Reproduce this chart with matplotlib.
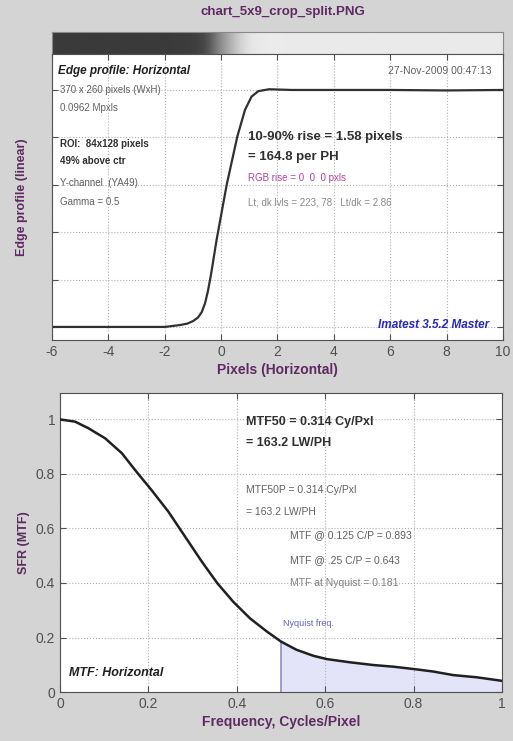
import numpy as np
import matplotlib
matplotlib.use('Agg')
import matplotlib.pyplot as plt

plt.rcParams['font.family'] = ['Liberation Sans', 'DejaVu Sans']
plt.rcParams['axes.unicode_minus'] = False

# edge profile (normalized, 0 = dark level, 1 = light level)
edge_x = [-6, -3, -2, -1.46, -1.2, -0.99, -0.82, -0.69, -0.57, -0.47, -0.36, -0.157,
          0.198, 0.574, 0.847, 1.08, 1.32, 1.7, 2.5, 4.0, 6.0, 8.0, 10.0]
edge_y = [0.0, 0.0, 0.0, 0.008, 0.014, 0.025, 0.04, 0.062, 0.1, 0.15, 0.22, 0.37,
          0.6, 0.803, 0.916, 0.972, 0.995, 1.003, 1.0, 1.0, 1.0, 0.998, 1.0]

# MTF curve
mtf_f = [0, 0.034, 0.064, 0.102, 0.14, 0.173, 0.207, 0.245, 0.283, 0.321, 0.356, 0.392,
         0.43, 0.468, 0.5, 0.535, 0.573, 0.603, 0.656, 0.709, 0.754, 0.807, 0.845, 0.89,
         0.943, 1.0]
mtf_v = [1.0, 0.992, 0.968, 0.931, 0.876, 0.808, 0.741, 0.662, 0.57, 0.478, 0.399, 0.331,
         0.27, 0.222, 0.185, 0.155, 0.133, 0.121, 0.109, 0.099, 0.093, 0.083, 0.075, 0.062,
         0.054, 0.041]

edge_ticks = [-6, -4, -2, 0, 2, 4, 6, 8, 10]
edge_grid = [0, 0.2, 0.4, 0.6, 0.8, 1.0]
mtf_xticks = [0, 0.2, 0.4, 0.6, 0.8, 1]
mtf_yticks = [0, 0.2, 0.4, 0.6, 0.8, 1]
nyquist = 0.5

bg = '#d4d4d4'
purple = '#5e2a62'
gray_txt = '#606060'

fig = plt.figure(figsize=(5.13, 7.41), dpi=100, facecolor=bg)
fig.text(0.552, 0.984, 'chart_5x9_crop_split.PNG', ha='center', va='center',
         fontsize=9.5, fontweight='bold', color=purple)

# gradient strip (image of the edge)
strip = fig.add_axes([0.1014, 0.9271, 0.879, 0.0297])
xs = np.linspace(-6, 10, 400)
prof = np.interp(xs, edge_x, edge_y)
strip.imshow(prof[np.newaxis, :], aspect='auto', cmap='gray', vmin=-0.33, vmax=1.12,
             extent=[-6, 10, 0, 1])
strip.set_xticks([])
strip.set_yticks([])
for s in strip.spines.values():
    s.set_color('#888888')

# edge profile axes
ax1 = fig.add_axes([0.1014, 0.5412, 0.879, 0.386])
ax1.plot(edge_x, edge_y, color='#303030', lw=1.6)
ax1.set_xlim(-6, 10)
ax1.set_ylim(-0.055, 1.152)
ax1.set_xticks(edge_ticks)
ax1.set_yticks(edge_grid)
ax1.set_yticklabels([])
ax1.tick_params(direction='in', top=True, right=True, length=4, labelsize=10,
                labelcolor='#505050', color='#505050')
ax1.grid(True, linestyle=':', color='#b0b0b0', lw=0.8)
ax1.set_xlabel('Pixels (Horizontal)', fontsize=10, fontweight='bold', color=purple, labelpad=3)
ax1.set_ylabel('Edge profile (linear)', fontsize=9, fontweight='bold', color=purple, labelpad=14)
for s in ax1.spines.values():
    s.set_color('#505050')

t = ax1.transAxes
ax1.text(0.013, 0.942, 'Edge profile: Horizontal', transform=t, fontsize=8.5,
         fontweight='bold', style='italic', color='#202020', va='center')
ax1.text(0.975, 0.942, '27-Nov-2009 00:47:13', transform=t, fontsize=7.5,
         color=gray_txt, va='center', ha='right')
left_lines = [('370 x 260 pixels (WxH)', 0.873, 'normal', gray_txt),
              ('0.0962 Mpxls', 0.81, 'normal', gray_txt),
              ('ROI:  84x128 pixels', 0.685, 'bold', '#303030'),
              ('49% above ctr', 0.625, 'bold', '#303030'),
              ('Y-channel  (YA49)', 0.55, 'normal', gray_txt),
              ('Gamma = 0.5', 0.482, 'normal', gray_txt)]
for s, yy, w, c in left_lines:
    ax1.text(0.018, yy, s, transform=t, fontsize=7, fontweight=w, color=c, va='center')
ax1.text(0.435, 0.708, '10-90% rise = 1.58 pixels', transform=t, fontsize=9.5,
         fontweight='bold', color='#303030', va='center')
ax1.text(0.435, 0.638, '= 164.8 per PH', transform=t, fontsize=9.5,
         fontweight='bold', color='#303030', va='center')
ax1.text(0.435, 0.568, 'RGB rise = 0  0  0 pxls', transform=t, fontsize=7,
         color='#b040a0', va='center')
ax1.text(0.435, 0.482, 'Lt, dk lvls = 223, 78   Lt/dk = 2.86', transform=t, fontsize=7,
         color='#8a8a8a', va='center')
ax1.text(0.97, 0.052, 'Imatest 3.5.2 Master', transform=t, fontsize=8.5,
         fontweight='bold', style='italic', color='#2828c0', va='center', ha='right')

# MTF axes
ax2 = fig.add_axes([0.117, 0.0661, 0.8616, 0.4035])
fx = np.array(mtf_f)
mv = np.array(mtf_v)
ny = fx >= nyquist
ax2.fill_between(fx[ny], 0, mv[ny], color='#e4e4f8', zorder=1)
ax2.plot([nyquist, nyquist], [0, mv[ny][0]], color='#9090c0', lw=1.2, zorder=2)
ax2.plot(mtf_f, mtf_v, color='#202020', lw=1.8, zorder=3)
ax2.set_xlim(0, 1)
ax2.set_ylim(0, 1.097)
ax2.set_xticks(mtf_xticks)
ax2.set_xticklabels(['0', '0.2', '0.4', '0.6', '0.8', '1'])
ax2.set_yticks(mtf_yticks)
ax2.set_yticklabels(['0', '0.2', '0.4', '0.6', '0.8', '1'])
ax2.tick_params(direction='in', top=True, right=True, length=4, labelsize=10,
                labelcolor='#505050', color='#505050')
ax2.grid(True, linestyle=':', color='#b0b0b0', lw=0.8)
ax2.set_xlabel('Frequency, Cycles/Pixel', fontsize=10, fontweight='bold', color=purple, labelpad=3)
ax2.set_ylabel('SFR (MTF)', fontsize=9, fontweight='bold', color=purple, labelpad=4)
for s in ax2.spines.values():
    s.set_color('#505050')

ax2.text(0.42, 0.99, 'MTF50 = 0.314 Cy/Pxl', fontsize=9, fontweight='bold',
         color='#303030', va='center')
ax2.text(0.42, 0.913, '= 163.2 LW/PH', fontsize=9, fontweight='bold',
         color='#303030', va='center')
ax2.text(0.42, 0.74, 'MTF50P = 0.314 Cy/Pxl', fontsize=7.5, color=gray_txt, va='center')
ax2.text(0.42, 0.66, '= 163.2 LW/PH', fontsize=7.5, color=gray_txt, va='center')
ax2.text(0.52, 0.576, 'MTF @ 0.125 C/P = 0.893', fontsize=7.5, color=gray_txt, va='center')
ax2.text(0.52, 0.484, 'MTF @ .25 C/P = 0.643', fontsize=7.5, color=gray_txt, va='center')
ax2.text(0.52, 0.40, 'MTF at Nyquist = 0.181', fontsize=7.5, color='#808080', va='center')
ax2.text(0.505, 0.253, 'Nyquist freq.', fontsize=6.5, color='#6060c0', va='center')
ax2.text(0.02, 0.07, 'MTF: Horizontal', fontsize=9, fontweight='bold', style='italic',
         color='#202020', va='center')

fig.savefig('out.png', dpi=100, facecolor=bg)
